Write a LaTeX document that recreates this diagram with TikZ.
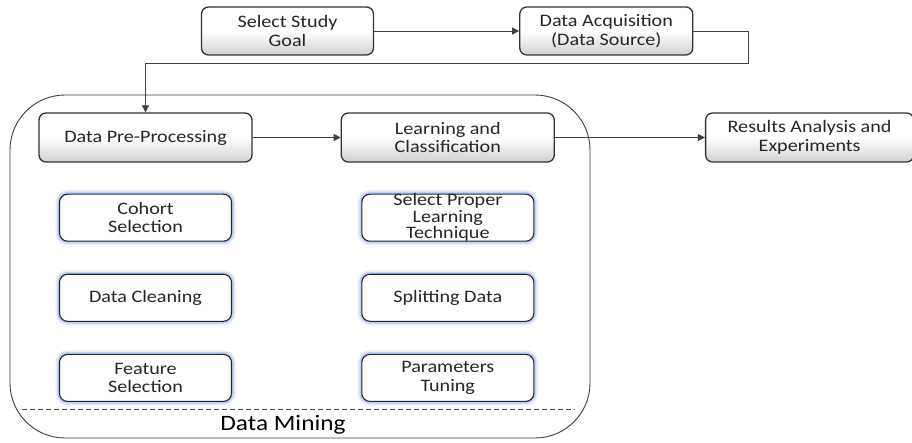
\documentclass[tikz,border=0pt]{standalone}
\usepackage{fontspec}
\setmainfont{Carlito}[FakeStretch=1.15]
\usetikzlibrary{arrows.meta,positioning}
\definecolor{glow}{RGB}{110,150,230}

\begin{document}
\begin{tikzpicture}[
  x=1pt, y=1pt,
  node distance=31pt and 88pt,
  box/.style={draw=black!80, line width=1.3pt, rounded corners=7pt, align=center, minimum width=213pt, minimum height=49pt, top color=white, bottom color=black!18, middle color=white, inner sep=1pt, text=black!85, font=\fontsize{17.5}{18.5}\selectfont},
  small/.style={draw=black!85, line width=1.1pt, rounded corners=8pt, align=center, minimum width=172pt, minimum height=47pt, fill=white, preaction={draw=glow!18, line width=8pt}, preaction={draw=glow!45, line width=4.5pt}, inner sep=1pt, text=black!85, font=\fontsize{17.5}{18.5}\selectfont},
  frame/.style={draw=black!75, line width=0.9pt, rounded corners=55pt, minimum width=580pt, minimum height=343pt},
  arrow/.style={-{Triangle[length=7pt,width=7pt]}, draw=black!75, line width=0.8pt}
]
\useasboundingbox (0,0) rectangle (912,-443);
\node[frame] (mining) at (300,-266.5) {};
\node[box, minimum width=172pt, minimum height=48pt] (goal) at (287.5,-31) {Select Study\\Goal};
\node[box, minimum width=173pt, minimum height=48pt, right=145pt of goal] (acq) {Data Acquisition\\(Data Source)};
\node[box] (prep) at (145.5,-137.5) {Data Pre-Processing};
\node[box, right=of prep] (learn) {Learning and\\Classification};
\node[box, minimum width=208pt, right=150pt of learn] (results) {Results Analysis and\\Experiments};
\node[small, below=of prep] (cohort) {Cohort\\Selection};
\node[small, below=32pt of cohort] (clean) {Data Cleaning};
\node[small, below=32pt of clean] (feature) {Feature\\Selection};
\node[small, below=of learn, inner ysep=-4pt, font=\fontsize{17.5}{16.5}\selectfont] (technique) {Select Proper\\Learning\\Technique};
\node[small, below=32pt of technique] (split) {Splitting Data};
\node[small, below=32pt of split] (tuning) {Parameters\\Tuning};
\coordinate (bend) at (748,-63);
\draw[dashed, dash pattern=on 5pt off 3pt, draw=black!70] ([xshift=12pt,yshift=29pt]mining.south west) -- ([xshift=-15pt,yshift=29pt]mining.south east);
\node[font=\fontsize{22}{24}\selectfont] (minelabel) at ([xshift=-17pt,yshift=14pt]mining.south) {Data Mining};
\draw[arrow] (goal) -- (acq);
\draw[arrow] (acq.east) -| (bend) -| (prep.north);
\draw[arrow] (prep) -- (learn);
\draw[arrow] (learn) -- (results);
\end{tikzpicture}
\end{document}
